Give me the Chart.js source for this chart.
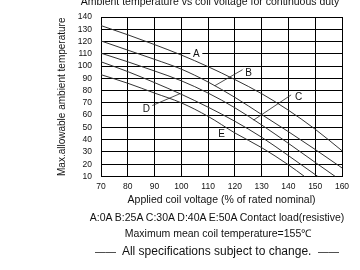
<!DOCTYPE html>
<html>
<head>
<meta charset="utf-8">
<script src="https://cdn.jsdelivr.net/npm/chart.js@4/dist/chart.umd.min.js"></script>
<style>
  body { margin: 0; background: #fff; overflow: hidden; }
  #wrap { position: relative; width: 360px; height: 270px; }
  #chart { position: absolute; left: 0; top: 0; }
  .note {
    position: absolute;
    transform: translateX(-50%);
    white-space: nowrap;
    font-family: "Liberation Sans", Arial, sans-serif;
    font-size: 10.5px;
    line-height: 12px;
    color: #111;
  }
  .dash { font-size: 10.5px; }
</style>
</head>
<body>
<div id="wrap">
  <canvas id="chart" width="360" height="270"></canvas>
  <div class="note" style="left:210px; top:-5px;">Ambient temperature vs coil voltage for continuous duty</div>
  <div class="note" style="left:217px; top:211px;">A:0A B:25A C:30A D:40A E:50A Contact load(resistive)</div>
  <div class="note" style="left:218px; top:227px;">Maximum mean coil temperature=155℃</div>
  <div class="note" style="left:217px; top:245px; font-size:12px; line-height:13px;"><span class="dash">——</span>&nbsp; All specifications subject to change. &nbsp;<span class="dash">——</span></div>
</div>
<script>
// curve data (x = % of rated coil voltage, y = deg C)
const voltsAB = [70, 80, 90, 100, 110, 120, 130, 140, 150, 160];
const tempA = [133, 125.5, 117.5, 109, 99.5, 89, 77.5, 64, 48.5, 31];
const tempB = [120.5, 113, 105.5, 97.5, 87, 74.5, 60.5, 46.5, 32, 17];
const voltsC = [70, 80, 90, 100, 110, 120, 130, 140, 150, 157.5];
const tempC = [110.5, 103.5, 96, 88, 78, 66, 52, 37, 21.5, 10];
const voltsD = [70, 80, 90, 100, 110, 120, 130, 140, 151];
const tempD = [103.5, 95.5, 86.5, 77, 66.5, 55, 42, 27, 10];
const voltsE = [70, 80, 90, 100, 110, 120, 130, 140, 146];
const tempE = [93, 86, 78, 70, 59, 45.5, 33.5, 19.5, 10];

// curve labels and their leader lines (data units)
const labelText = ["A", "B", "C", "D", "E"];
const labelX = [105.6, 125.1, 143.8, 86.9, 115];
const labelY = [110.2, 94.7, 75.3, 65.1, 44.9];
const leaderFrom = [null, [112.5, 84], [127, 56], [88.8, 67.5], null];
const leaderTo = [null, [123.2, 97.5], [141, 76.5], [99.5, 77.5], null];

const FONT = "'Liberation Sans', Arial, sans-serif";

const toPoints = (xs, ys) => xs.map((x, i) => ({ x: x, y: ys[i] }));

const curve = (xs, ys) => ({
  data: toPoints(xs, ys),
  borderColor: "#333",
  borderWidth: 1,
  pointRadius: 0,
  cubicInterpolationMode: "monotone",
  clip: 0
});

// draws the A..E letters with their leaders
const curveLabels = {
  id: "curveLabels",
  afterDatasetsDraw(chart) {
    const { ctx, scales } = chart;
    const sx = scales.x, sy = scales.y;
    ctx.save();
    ctx.strokeStyle = "#222";
    ctx.lineWidth = 0.8;
    leaderFrom.forEach((f, i) => {
      if (!f) return;
      ctx.beginPath();
      ctx.moveTo(sx.getPixelForValue(f[0]), sy.getPixelForValue(f[1]));
      ctx.lineTo(sx.getPixelForValue(leaderTo[i][0]), sy.getPixelForValue(leaderTo[i][1]));
      ctx.stroke();
    });
    ctx.font = "10px " + FONT;
    ctx.textAlign = "center";
    ctx.textBaseline = "middle";
    labelText.forEach((t, i) => {
      const px = sx.getPixelForValue(labelX[i]);
      const py = sy.getPixelForValue(labelY[i]);
      ctx.fillStyle = "#fff";
      ctx.fillRect(px - 6, py - 4, 12, 8);
      ctx.fillStyle = "#111";
      ctx.fillText(t, px, py + 0.5);
    });
    ctx.restore();
  }
};

new Chart(document.getElementById("chart"), {
  type: "line",
  data: {
    datasets: [
      curve(voltsAB, tempA),
      curve(voltsAB, tempB),
      curve(voltsC, tempC),
      curve(voltsD, tempD),
      curve(voltsE, tempE)
    ]
  },
  options: {
    responsive: false,
    animation: false,
    layout: { padding: { top: 17, right: 18, bottom: 63.5, left: 0 } },
    plugins: { legend: { display: false }, tooltip: { enabled: false } },
    scales: {
      x: {
        type: "linear",
        min: 70,
        max: 160,
        ticks: { stepSize: 10, autoSkip: false, maxRotation: 0, padding: 5, color: "#111", font: { family: FONT, size: 8.5 } },
        grid: { color: "#000", lineWidth: 1, drawTicks: false },
        border: { color: "#000" },
        title: {
          display: true,
          text: "Applied coil voltage (% of rated nominal)",
          color: "#111",
          font: { family: FONT, size: 10.5 },
          padding: 0
        },
        afterFit: s => { s.height = 30; }
      },
      y: {
        min: 10,
        max: 140,
        ticks: { stepSize: 10, autoSkip: false, padding: 9, color: "#111", font: { family: FONT, size: 8.5 } },
        grid: { color: "#000", lineWidth: 1, drawTicks: false },
        border: { color: "#000" },
        title: {
          display: true,
          text: "Max.allowable ambient temperature",
          color: "#111",
          font: { family: FONT, size: 10 },
          padding: { top: 56, bottom: 0 }
        },
        afterFit: s => { s.width = 101; }
      }
    }
  },
  plugins: [curveLabels]
});
</script>
</body>
</html>
